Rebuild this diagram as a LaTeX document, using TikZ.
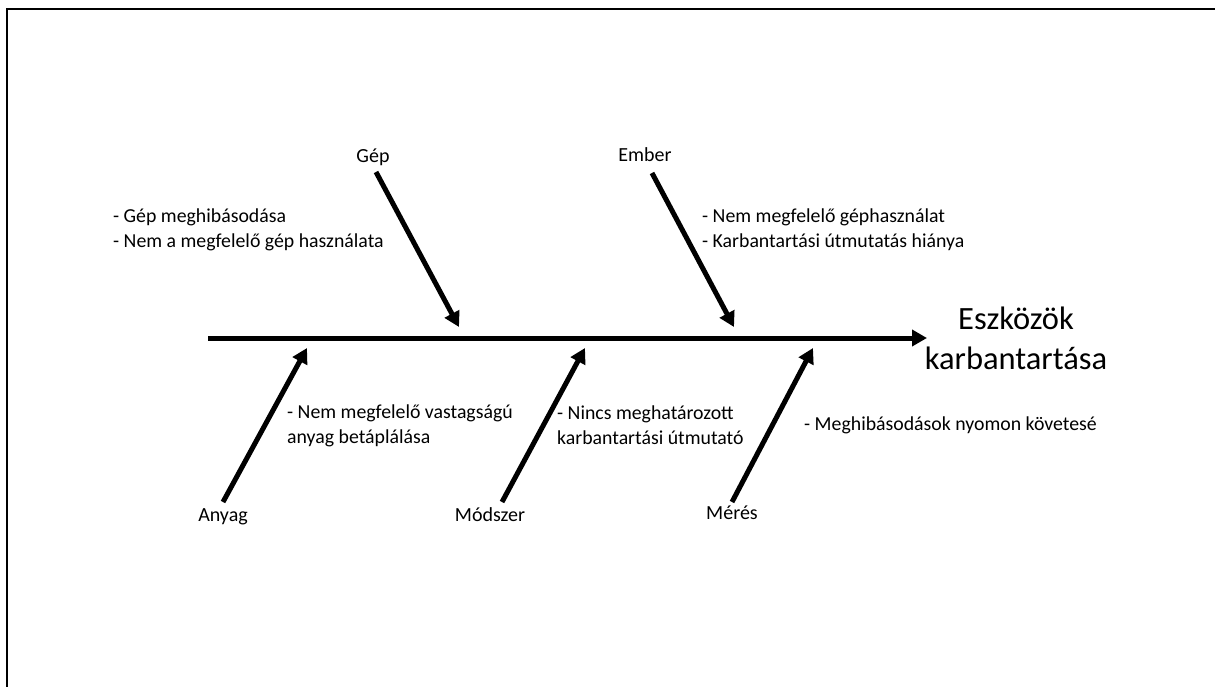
\documentclass[tikz,border=0pt]{standalone}
\usepackage{fontspec}
\setmainfont{Carlito}
\usetikzlibrary{arrows.meta}
\tikzset{
  bone/.style={line width=5pt, -{Triangle[length=15pt,width=16pt]}},
  frameline/.style={line width=2pt},
  cat/.style={inner sep=0pt, anchor=base, font=\fontsize{20}{25}\selectfont},
  cause/.style={inner sep=0pt, anchor=west, align=left, font=\fontsize{19.8}{25}\selectfont},
  effect/.style={inner sep=0pt, align=center, font=\fontsize{32.5}{40}\selectfont}
}
\begin{document}
\begin{tikzpicture}[x=1pt, y=-1pt]
  \useasboundingbox (0,0) rectangle (1215,687);
  % partial frame: top and left edges
  \draw[frameline] (1215,9) -- (7,9) -- (7,687);

  % spine
  \coordinate (tail) at (208,338);
  \coordinate (head) at (927,338);
  \draw[bone] (tail) -- (head);
  \node[effect] (effect) at (1016,338) {Eszközök\\karbantartása};

  % upper categories
  \node[cat] (gep) at (373,163) {Gép};
  \node[cat] (ember) at (645,162) {Ember};
  \coordinate (gepS) at (376,172);
  \coordinate (gepE) at (459,327);
  \coordinate (emberS) at (652,173);
  \coordinate (emberE) at (734,327);
  \draw[bone] (gepS) -- (gepE);
  \draw[bone] (emberS) -- (emberE);

  % lower categories
  \node[cat] (anyag) at (223,521.5) {Anyag};
  \node[cat] (modszer) at (490,521.5) {Módszer};
  \node[cat] (meres) at (732,519.5) {Mérés};
  \coordinate (anyagS) at (223,502);
  \coordinate (anyagE) at (307,348);
  \coordinate (modszerS) at (502,502);
  \coordinate (modszerE) at (585,348);
  \coordinate (meresS) at (732,502);
  \coordinate (meresE) at (813,348);
  \draw[bone] (anyagS) -- (anyagE);
  \draw[bone] (modszerS) -- (modszerE);
  \draw[bone] (meresS) -- (meresE);

  % causes
  \node[cause] (c1) at (113,229.5) {- Gép meghibásodása\\- Nem a megfelelő gép használata};
  \node[cause] (c2) at (702,229.5) {- Nem megfelelő géphasználat\\- Karbantartási útmutatás hiánya};
  \node[cause] (c3) at (287,425.5) {- Nem megfelelő vastagságú\\anyag betáplálása};
  \node[cause] (c4) at (557,425.5) {- Nincs meghatározott\\karbantartási útmutató};
  \node[cause] (c5) at (804,425) {- Meghibásodások nyomon követesé};
\end{tikzpicture}
\end{document}
